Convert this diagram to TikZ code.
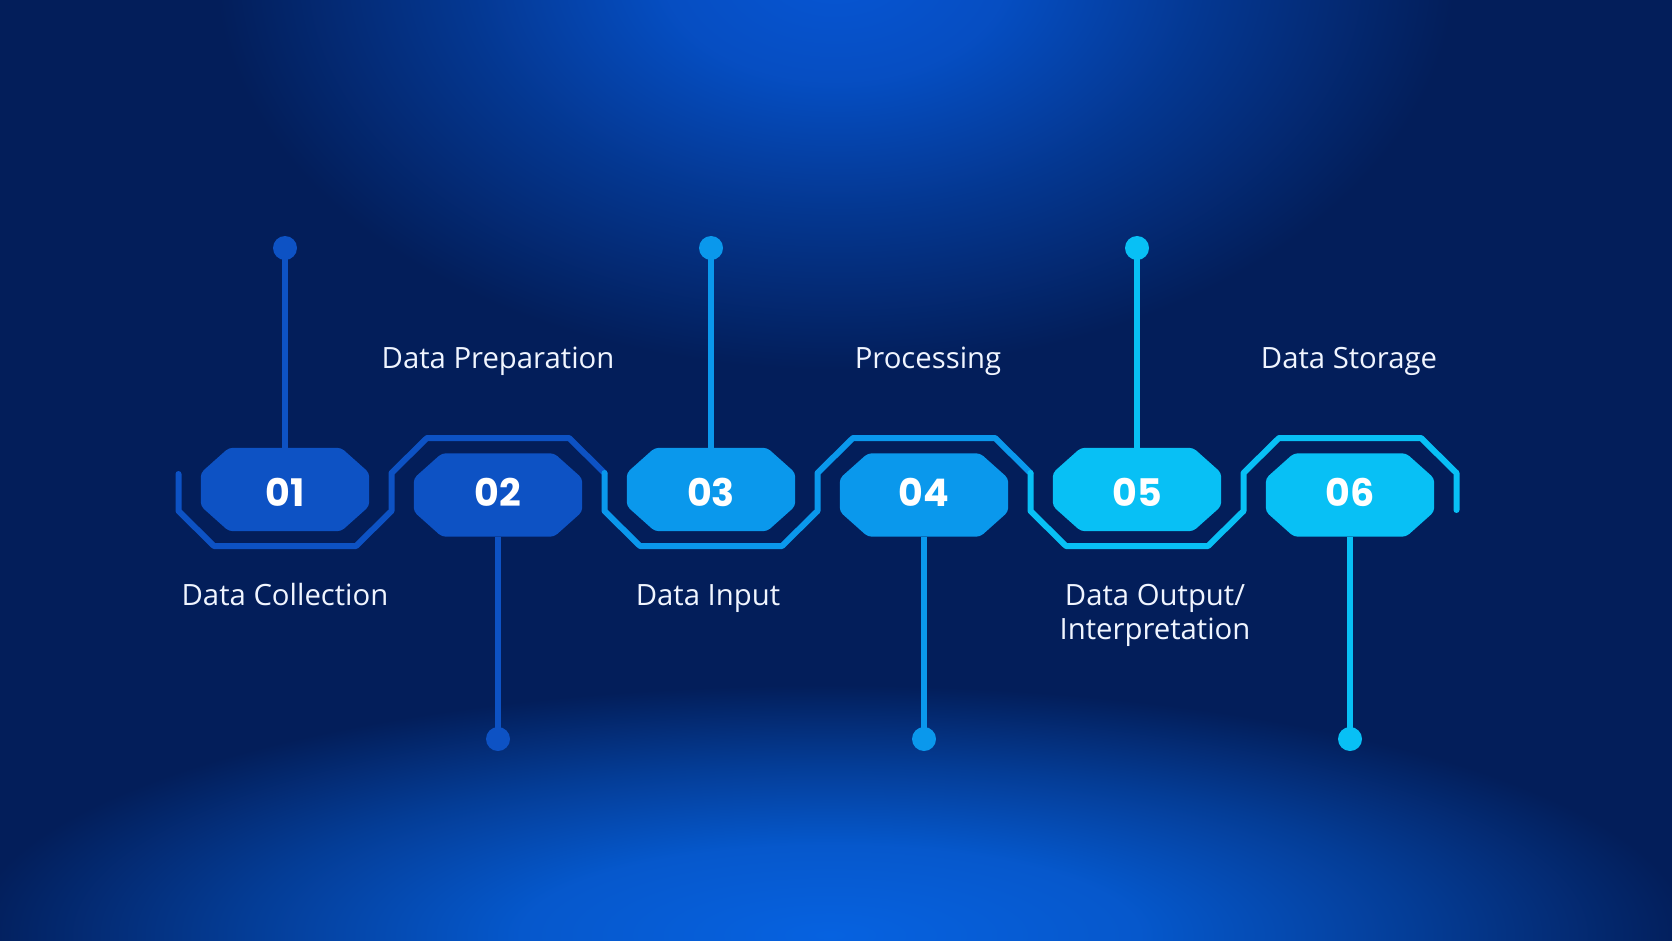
\documentclass[tikz,border=0pt]{standalone}
\usepackage{fontspec}
\usetikzlibrary{calc}
\newfontfamily\labelfont{Open Sans}
\newfontfamily\numfont{Poppins}
\definecolor{bgc}{RGB}{3,30,90}
\definecolor{glowtop}{RGB}{6,86,212}
\definecolor{glowbot}{RGB}{6,98,224}
\definecolor{ca}{RGB}{13,82,196}
\definecolor{cb}{RGB}{10,152,236}
\definecolor{cc}{RGB}{8,192,245}
\definecolor{txt}{RGB}{240,245,255}
\pgfdeclareradialshading{topglow}{\pgfpoint{0bp}{0bp}}{color(0bp)=(glowtop); color(7bp)=(glowtop!85!bgc); color(15bp)=(glowtop!45!bgc); color(25bp)=(bgc); color(50bp)=(bgc)}
\pgfdeclareradialshading{botglow}{\pgfpoint{0bp}{0bp}}{color(0bp)=(glowbot); color(9bp)=(glowbot!85!bgc); color(17bp)=(glowbot!45!bgc); color(25bp)=(bgc); color(50bp)=(bgc)}
\newcommand\octfill[2]{%
  \fill[#2, rounded corners=4pt] ($(#1.north west)+(28,0)$) -- ($(#1.north east)+(-28,0)$)
    -- ($(#1.north east)+(0,25)$) -- ($(#1.south east)+(0,-25)$) -- ($(#1.south east)+(-28,0)$)
    -- ($(#1.south west)+(28,0)$) -- ($(#1.south west)+(0,-25)$) -- ($(#1.north west)+(0,25)$) -- cycle;}
\tikzset{
  octa/.style={rectangle, minimum width=168pt, minimum height=83pt, inner sep=0pt},
  num/.style={text=white, inner sep=0pt, font=\numfont\bfseries\fontsize{38}{38}\selectfont},
  pindot/.style={circle, minimum size=24pt, inner sep=0pt},
  stem/.style={line width=6.5pt},
  track/.style={line width=6pt, line cap=round, line join=round},
  lbl/.style={text=txt, font=\labelfont\fontsize{29.3}{34}\selectfont, align=center, inner sep=0pt}
}
\begin{document}
\begin{tikzpicture}[x=1pt,y=-1pt]
\useasboundingbox (0,0) rectangle (1672,941);
\begin{scope}
\clip (0,0) rectangle (1672,941);
\fill[bgc] (0,0) rectangle (1672,941);
\shade[shading=topglow] (835,-30) ellipse [x radius=620pt, y radius=400pt];
\shade[shading=botglow] (830,935) ellipse [x radius=860pt, y radius=250pt];
\end{scope}

% track
\draw[track, ca] (178.5,474) -- (178.5,511) -- (214,546) -- (356,546) -- (391.5,511) -- (391.5,473)
  -- (427,438) -- (569,438) -- (604.5,473);
\draw[track, cb] (604.5,473) -- (604.5,511) -- (640,546) -- (782,546) -- (817.5,511) -- (817.5,473)
  -- (853,438) -- (995,438) -- (1030.5,473);
\draw[track, cc] (1030.5,473) -- (1030.5,511) -- (1066,546) -- (1208,546) -- (1243.5,511) -- (1243.5,473)
  -- (1279,438) -- (1421,438) -- (1456.5,473) -- (1456.5,510);

% octagons
\node[octa] (o1) at (285,489.5) {};
\node[octa] (o2) at (498,495) {};
\node[octa] (o3) at (711,489.5) {};
\node[octa] (o4) at (924,495) {};
\node[octa] (o5) at (1137,489.5) {};
\node[octa] (o6) at (1350,495) {};
\octfill{o1}{ca}
\octfill{o2}{ca}
\octfill{o3}{cb}
\octfill{o4}{cb}
\octfill{o5}{cc}
\octfill{o6}{cc}
\node[num] (n1) at (285,492.5) {01};
\node[num] (n2) at (498,492.5) {02};
\node[num] (n3) at (711,492.5) {03};
\node[num] (n4) at (924,492.5) {04};
\node[num] (n5) at (1137,492.5) {05};
\node[num] (n6) at (1350,492.5) {06};

% pins
\node[pindot, fill=ca] (d1) at (285,248) {};
\node[pindot, fill=ca] (d2) at (498,739) {};
\node[pindot, fill=cb] (d3) at (711,248) {};
\node[pindot, fill=cb] (d4) at (924,739) {};
\node[pindot, fill=cc] (d5) at (1137,248) {};
\node[pindot, fill=cc] (d6) at (1350,739) {};
\draw[stem, ca] (d1.center) -- (o1.north);
\draw[stem, ca] (o2.south) -- (d2.center);
\draw[stem, cb] (d3.center) -- (o3.north);
\draw[stem, cb] (o4.south) -- (d4.center);
\draw[stem, cc] (d5.center) -- (o5.north);
\draw[stem, cc] (o6.south) -- (d6.center);

% labels
\node[lbl, anchor=base] (l2) at (498,368) {Data Preparation};
\node[lbl, anchor=base] (l4) at (928,368) {Processing};
\node[lbl, anchor=base] (l6) at (1349,368) {Data Storage};
\node[lbl, anchor=base] (l1) at (285,605) {Data Collection};
\node[lbl, anchor=base] (l3) at (708,605) {Data Input};
\node[lbl, anchor=base] (l5) at (1155,639) {Data Output/\\Interpretation};
\end{tikzpicture}
\end{document}
